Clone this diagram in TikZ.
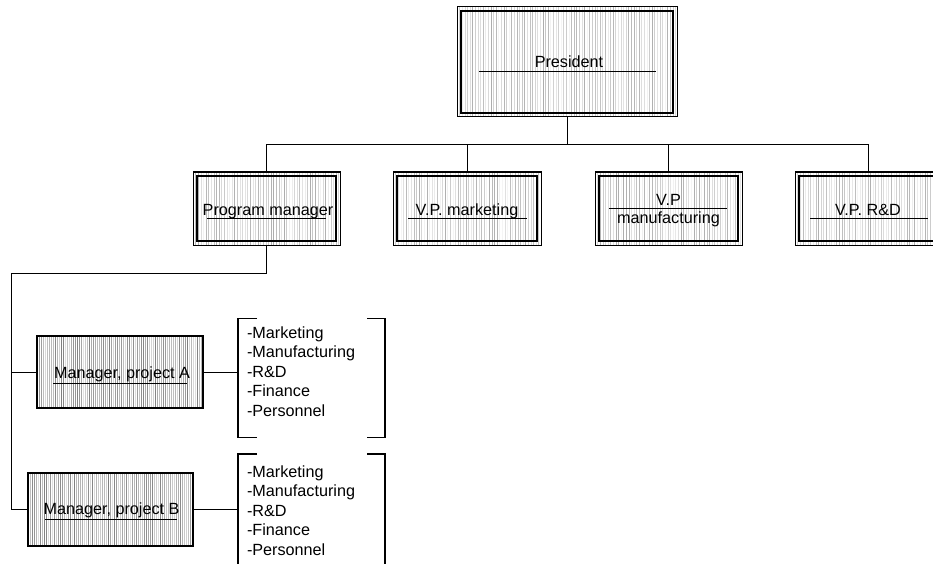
\documentclass[tikz,border=0pt]{standalone}
\usepackage{fontspec}
\setmainfont{Liberation Sans}
\usetikzlibrary{calc}

\begin{document}
\begin{tikzpicture}[x=1pt,y=-1pt,
  every node/.style={inner sep=0pt, outer sep=0pt},
  txt/.style={font=\fontsize{16.2pt}{19.5pt}\selectfont, anchor=base},
  item/.style={font=\fontsize{16.2pt}{19.5pt}\selectfont, anchor=base west},
  wire/.style={line width=0.9pt, black},
  rule/.style={line width=1pt, black},
  brk/.style={line width=1.2pt, black},
  % executive box: thin outer frame, light streaks, heavier inner frame
  execbox/.style={draw=black, line width=1pt, rectangle,
    path picture={
      \foreach \k in {0,...,90}{
        \pgfmathrandominteger{\g}{4}{32}
        \draw[black!\g, line width=0.45pt]
          ([xshift=\k*2.6pt]path picture bounding box.north west) --
          ([xshift=\k*2.6pt]path picture bounding box.south west);
      }
      \draw[black, line width=1.8pt]
        ([shift={(3.8pt,-3.8pt)}]path picture bounding box.north west) rectangle
        ([shift={(-3.8pt,3.8pt)}]path picture bounding box.south east);
    }},
  % project manager box: single frame, denser streaks
  projbox/.style={draw=black, line width=1.4pt, rectangle,
    path picture={
      \foreach \k in {0,...,90}{
        \pgfmathrandominteger{\g}{12}{50}
        \draw[black!\g, line width=0.5pt]
          ([xshift=\k*2pt]path picture bounding box.north west) --
          ([xshift=\k*2pt]path picture bounding box.south west);
      }
    }},
  listbox/.style={rectangle, minimum width=147pt, minimum height=119pt},
]
\useasboundingbox (0,0) rectangle (933,564);
\clip (0,0) rectangle (933,564);
\pgfmathsetseed{11}

% positions
\node[execbox, minimum width=220pt, minimum height=110pt] (pres) at (567,62) {};
\node[execbox, minimum width=147pt, minimum height=73pt] (pm)   at (266.5,208.5) {};
\node[execbox, minimum width=148pt, minimum height=73pt] (vpm)  at (467,208.5) {};
\node[execbox, minimum width=147pt, minimum height=73pt] (vpmf) at (668.5,208.5) {};
\node[execbox, minimum width=146pt, minimum height=73pt] (vprd) at (868,208.5) {};
\node[projbox, minimum width=166pt, minimum height=72pt] (ma) at (120,372) {};
\node[projbox, minimum width=165pt, minimum height=73pt] (mb) at (110.5,509.5) {};

% titles with their rules
\node[txt] (presT) at (569,68) {President};
\draw[rule] (479,72) -- (656,72);

\node[txt] (pmT) at (268,215.5) {Program manager};
\draw[rule] (207,218.3) -- (326,218.3);

\node[txt] (vpmT) at (467,215.5) {V.P. marketing};
\draw[rule] (408,218.3) -- (527,218.3);

\node[txt] (vpmfT1) at (668.5,205) {V.P};
\draw[rule] (609,208.7) -- (727,208.7);
\node[txt] (vpmfT2) at (668.5,223) {manufacturing};

\node[txt] (vprdT) at (868,215.5) {V.P. R\&D};
\draw[rule] (810,218.3) -- (928,218.3);

\node[txt] (maT) at (122,378) {Manager, project A};
\draw[rule] (53,383) -- (187,383);

\node[txt] (mbT) at (111.5,514) {Manager, project B};
\draw[rule] (45,519) -- (177,519);

% reporting lines
\coordinate (bus) at (567,144);
\coordinate (spine) at (11,273);
\draw[wire] (pres.south) -- (bus);
\draw[wire] (pm.north) -- (pm.north |- bus) -- (vprd.north |- bus) -- (vprd.north);
\draw[wire] (vpm.north) -- (vpm.north |- bus);
\draw[wire] (vpmf.north) -- (vpmf.north |- bus);
\draw[wire] (pm.south) -- (pm.south |- spine) -- (spine) -- (spine |- mb.west) -- (mb.west);
\draw[wire] (spine |- ma.west) -- (ma.west);

% functional groups in brackets
\node[listbox] (la) at (311.5,378) {};
\node[listbox] (lb) at (311.5,513.5) {};
\foreach \l in {la,lb}{
  \draw[brk] ([xshift=19pt]\l.north west) -- (\l.north west) -- (\l.south west) -- ([xshift=19pt]\l.south west);
  \draw[brk] ([xshift=-18pt]\l.north east) -- (\l.north east) -- (\l.south east) -- ([xshift=-18pt]\l.south east);
}
\draw[wire] (ma.east) -- (ma.east -| la.west);
\draw[wire] (mb.east) -- (mb.east -| lb.west);

\foreach \t [count=\i from 0] in {-Marketing,-Manufacturing,-R\&D,-Finance,-Personnel}{
  \node[item] (la\i) at (247,338+19.5*\i) {\t};
  \node[item] (lb\i) at (247,477+19.5*\i) {\t};
}
\end{tikzpicture}
\end{document}
